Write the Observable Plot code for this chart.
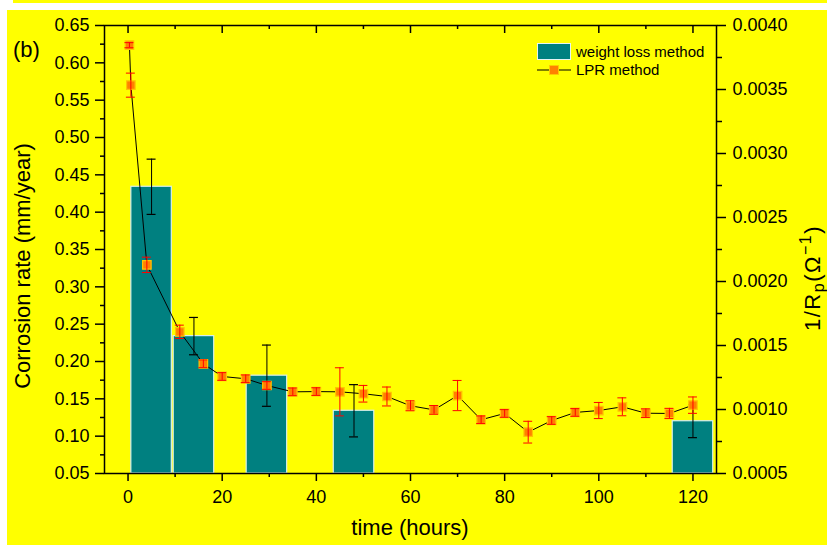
<!DOCTYPE html>
<html>
<head>
<meta charset="utf-8">
<script src="https://cdn.jsdelivr.net/npm/d3@7"></script>
<script src="https://cdn.jsdelivr.net/npm/@observablehq/plot@0.6"></script>
<style>
  body { margin: 0; background: #fff; font-family: "Liberation Sans", Arial, sans-serif; }
  #wrap { position: relative; width: 827px; height: 545px; overflow: hidden; }
  .bg { position: absolute; background: #ffff00; }
  .txt { position: absolute; white-space: nowrap; color: #000; line-height: 1; }
  .legend-row { display: flex; align-items: center; height: 18px; font-size: 15px; }
  .legend-row .key { width: 34px; height: 17px; margin-right: 5px; flex: none; }
  #chart { position: absolute; left: 0; top: 0; }
  .rtitle sub, .rtitle sup { font-size: 16px; line-height: 0; }
  .rtitle sub { vertical-align: -4px; }
  .rtitle sup { vertical-align: 9px; }
</style>
</head>
<body>
<div id="wrap">
  <div class="bg" style="left:13px; top:0; right:0; height:3px;"></div>
  <div class="bg" style="left:7px; top:10px; right:0; bottom:0;"></div>
  <div id="chart"></div>
  <div class="txt" style="left:13px; top:39px; font-size:22px;">(b)</div>
  <div class="txt" style="left:22.5px; top:266px; font-size:22px; transform:translate(-50%,-50%) rotate(-90deg);">Corrosion rate (mm/year)</div>
  <div class="txt rtitle" style="left:813px; top:278px; font-size:22px; letter-spacing:1.5px; transform:translate(-50%,-50%) rotate(-90deg);">1/R<sub>p</sub>(Ω<sup>−1</sup>)</div>
  <div class="txt" style="left:410px; top:528px; font-size:22px; transform:translate(-50%,-50%);">time (hours)</div>
  <div class="txt" style="left:537px; top:42px;">
    <div class="legend-row"><span class="key" style="background:#008080; box-sizing:border-box; border:1px solid #e6f4f4;"></span>weight loss method</div>
    <div class="legend-row">
      <svg class="key" width="34" height="17" viewBox="0 0 34 17">
        <line x1="0" x2="34" y1="9" y2="9" stroke="#000" stroke-width="1"/>
        <rect x="12.5" y="4.5" width="9" height="9" fill="#ff8000" stroke="#ffc800" stroke-width="1"/>
      </svg>LPR method</div>
  </div>
</div>
<script>
// Weight-loss corrosion rate (mm/year), one bar per immersion period
const barTime = [5, 14, 29.5, 48, 120];
const barRate = [0.434, 0.234, 0.181, 0.134, 0.120];
const barErr  = [0.037, 0.025, 0.041, 0.035, 0.022];

// LPR measurements: 1/Rp (Ohm^-1) against time (hours)
const lprTime = [0.3, 0.6, 4, 11, 16, 20, 25, 29.5, 35, 40, 45, 50, 55, 60, 65, 70, 75, 80, 85, 90, 95, 100, 105, 110, 115, 120];
const lprInvRp = [0.003846, 0.003534, 0.00213, 0.001607, 0.001357, 0.001258, 0.00124, 0.0011875, 0.001138, 0.00114, 0.001138, 0.001123, 0.0011016, 0.001029, 0.000997, 0.001109, 0.00092, 0.000969, 0.000823, 0.000914, 0.000977, 0.000992, 0.001021, 0.000971, 0.000969, 0.001034];
const lprErr = [0.00002, 0.000094, 0.00006, 0.000052, 0.00003, 0.00003, 0.00003, 0.00003, 0.00003, 0.00003, 0.000188, 0.000065, 0.000074, 0.000039, 0.000034, 0.000118, 0.00003, 0.00003, 0.000085, 0.00003, 0.00003, 0.000063, 0.00007, 0.000034, 0.00004, 0.000064];

// Axis ticks
const xTicks = [0, 20, 40, 60, 80, 100, 120];
const xMinor = [10, 30, 50, 70, 90, 110];
const leftTicks = [0.05, 0.10, 0.15, 0.20, 0.25, 0.30, 0.35, 0.40, 0.45, 0.50, 0.55, 0.60, 0.65];
const leftMinor = [0.075, 0.125, 0.175, 0.225, 0.275, 0.325, 0.375, 0.425, 0.475, 0.525, 0.575, 0.625];
const rightTicks = [0.0005, 0.0010, 0.0015, 0.0020, 0.0025, 0.0030, 0.0035, 0.0040];
const rightMinor = [0.00075, 0.00125, 0.00175, 0.00225, 0.00275, 0.00325, 0.00375];

const xDomain = [-5, 125];
const yDomain = [0.05, 0.65];
const rDomain = [0.0005, 0.0040];

// Map the right-hand 1/Rp values onto the left-hand y scale
const toLeft = v => yDomain[0] + (v - rDomain[0]) / (rDomain[1] - rDomain[0]) * (yDomain[1] - yDomain[0]);
const fromLeft = y => rDomain[0] + (y - yDomain[0]) / (yDomain[1] - yDomain[0]) * (rDomain[1] - rDomain[0]);

const bars = barTime.map((t, i) => ({t, rate: barRate[i], err: barErr[i]}));
const lpr = lprTime.map((t, i) => ({t, y: toLeft(lprInvRp[i]), lo: toLeft(lprInvRp[i] - lprErr[i]), hi: toLeft(lprInvRp[i] + lprErr[i])}));

const W = 827, H = 545;
const mL = 104, mR = 111, mT = 25, mB = 72;
const innerH = H - mT - mB;
const barHalf = 4.3;   // half bar width, hours
const capHalf = 0.95;  // half error-cap width, hours

const axisFont = {fontSize: 18, fontFamily: "Liberation Sans, Arial, sans-serif"};

const chart = Plot.plot({
  width: W, height: H,
  marginLeft: mL, marginRight: mR, marginTop: mT, marginBottom: mB,
  style: {background: "transparent", color: "#000", fontFamily: "Liberation Sans, Arial, sans-serif", overflow: "visible"},
  x: {domain: xDomain},
  y: {domain: yDomain},
  marks: [
    // weight-loss bars
    Plot.rectY(bars, {x1: d => d.t - barHalf, x2: d => d.t + barHalf, y1: yDomain[0], y2: "rate",
      fill: "#008080", stroke: "#d6eeee", strokeWidth: 1.2}),
    Plot.ruleX(bars, {x: "t", y1: d => d.rate - d.err, y2: d => d.rate + d.err, stroke: "#000", strokeWidth: 1}),
    Plot.ruleY(bars, {y: d => d.rate + d.err, x1: d => d.t - capHalf, x2: d => d.t + capHalf, stroke: "#000", strokeWidth: 1.2}),
    Plot.ruleY(bars, {y: d => d.rate - d.err, x1: d => d.t - capHalf, x2: d => d.t + capHalf, stroke: "#000", strokeWidth: 1.2}),

    // LPR series
    Plot.line(lpr, {x: "t", y: "y", stroke: "#000", strokeWidth: 1}),
    Plot.dot(lpr, {x: "t", y: "y", symbol: "square", r: 4.8, fill: "#ff8000", stroke: "#ffc400", strokeWidth: 1.2}),
    Plot.ruleX(lpr, {x: "t", y1: "lo", y2: "hi", stroke: "#ff0000", strokeWidth: 1}),
    Plot.ruleY(lpr, {y: "hi", x1: d => d.t - capHalf, x2: d => d.t + capHalf, stroke: "#ff0000", strokeWidth: 1}),
    Plot.ruleY(lpr, {y: "lo", x1: d => d.t - capHalf, x2: d => d.t + capHalf, stroke: "#ff0000", strokeWidth: 1}),

    // bottom axis
    Plot.axisX(xTicks, {anchor: "bottom", tickSize: 8, tickPadding: 9, strokeWidth: 1.5, label: null, ...axisFont}),
    Plot.axisX(xMinor, {anchor: "bottom", tickSize: 4, tickFormat: () => "", strokeWidth: 1.5, label: null}),
    // top axis, ticks pointing inward
    Plot.ruleX(xTicks, {x: d => d, insetBottom: innerH - 8, stroke: "#000", strokeWidth: 1.5}),
    Plot.ruleX(xMinor, {x: d => d, insetBottom: innerH - 4, stroke: "#000", strokeWidth: 1.5}),

    // left axis
    Plot.axisY(leftTicks, {anchor: "left", tickSize: 9, tickPadding: 6, tickFormat: d3.format(".2f"), strokeWidth: 1.5, label: null, ...axisFont}),
    Plot.axisY(leftMinor, {anchor: "left", tickSize: 4, tickFormat: () => "", strokeWidth: 1.5, label: null}),

    // right axis (1/Rp)
    Plot.axisY(rightTicks.map(toLeft), {anchor: "right", tickSize: 9, tickPadding: 7,
      tickFormat: y => d3.format(".4f")(fromLeft(y)), strokeWidth: 1.5, label: null, ...axisFont}),
    Plot.axisY(rightMinor.map(toLeft), {anchor: "right", tickSize: 5, tickFormat: () => "", strokeWidth: 1.5, label: null}),

    Plot.frame({stroke: "#000", strokeWidth: 1.5})
  ]
});

document.getElementById("chart").appendChild(chart);
</script>
</body>
</html>
